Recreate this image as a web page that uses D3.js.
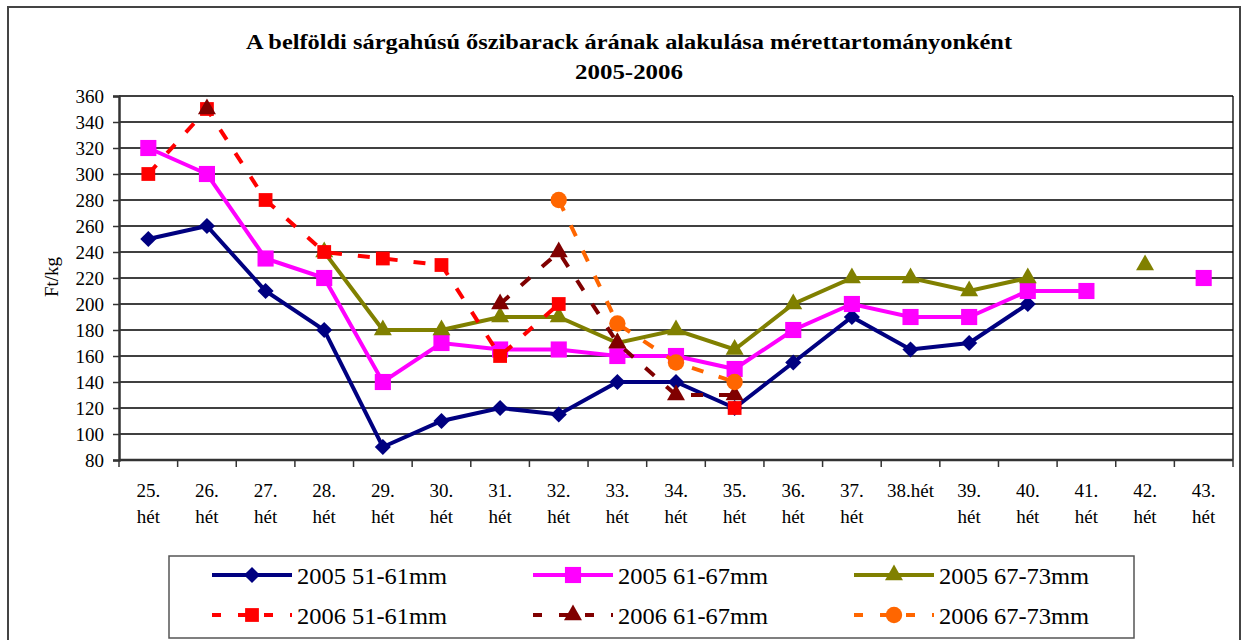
<!DOCTYPE html>
<html>
<head>
<meta charset="utf-8">
<script src="https://cdn.jsdelivr.net/npm/d3@7"></script>
<style>
  body { margin: 0; background: #fff; }
  text { font-family: "Liberation Serif", "Times New Roman", serif; fill: #000; }
</style>
</head>
<body>
<script>
// weekly prices, Ft/kg (null = no data)
var weeks = ['25. hét', '26. hét', '27. hét', '28. hét', '29. hét', '30. hét', '31. hét', '32. hét',
  '33. hét', '34. hét', '35. hét', '36. hét', '37. hét', '38.hét', '39. hét', '40. hét',
  '41. hét', '42. hét', '43. hét'];

var s2005a = [250, 260, 210, 180, 90, 110, 120, 115, 140, 140, 120, 155, 190, 165, 170, 200, null, null, null];
var s2005b = [320, 300, 235, 220, 140, 170, 165, 165, 160, 160, 150, 180, 200, 190, 190, 210, 210, null, 220];
var s2005c = [null, null, null, 240, 180, 180, 190, 190, 170, 180, 165, 200, 220, 220, 210, 220, null, 230, null];
var s2006a = [300, 350, 280, 240, 235, 230, 160, 200, null, null, 120, null, null, null, null, null, null, null, null];
var s2006b = [null, 350, null, null, null, null, 200, 240, 170, 130, 130, null, null, null, null, null, null, null, null];
var s2006c = [null, null, null, null, null, null, null, 280, 185, 155, 140, null, null, null, null, null, null, null, null];

var seriesNames = ['2005 51-61mm', '2005 61-67mm', '2005 67-73mm', '2006 51-61mm', '2006 61-67mm', '2006 67-73mm'];
var yTicks = [80, 100, 120, 140, 160, 180, 200, 220, 240, 260, 280, 300, 320, 340, 360];

// square diamond (excel style), not the narrow d3 one
var diamond = {
  draw: function (ctx, size) {
    var r = Math.sqrt(size / 2);
    ctx.moveTo(0, -r); ctx.lineTo(r, 0); ctx.lineTo(0, r); ctx.lineTo(-r, 0); ctx.closePath();
  }
};

var series = [
  { name: seriesNames[0], values: s2005a, color: '#000080', shape: diamond, size: 130, dash: null },
  { name: seriesNames[1], values: s2005b, color: '#FF00FF', shape: d3.symbolSquare, size: 260, dash: null },
  { name: seriesNames[2], values: s2005c, color: '#808000', shape: d3.symbolTriangle, size: 140, dash: null },
  { name: seriesNames[3], values: s2006a, color: '#FF0000', shape: d3.symbolSquare, size: 190, dash: '12,16' },
  { name: seriesNames[4], values: s2006b, color: '#800000', shape: d3.symbolTriangle, size: 140, dash: '12,16' },
  { name: seriesNames[5], values: s2006c, color: '#FF6600', shape: d3.symbolCircle, size: 210, dash: '12,16' }
];

var W = 1242, H = 640;
var plot = { left: 119, right: 1233, top: 96, bottom: 460 };

var svg = d3.select('body').append('svg')
  .attr('width', W).attr('height', H);

// outer frame
svg.append('rect')
  .attr('x', 8).attr('y', 7).attr('width', 1232).attr('height', 660)
  .attr('fill', 'none').attr('stroke', '#444').attr('stroke-width', 2);

var x = d3.scaleBand().domain(weeks).range([plot.left, plot.right]).padding(0);
var y = d3.scaleLinear().domain([80, 360]).range([plot.bottom, plot.top]);
var cx = function (i) { return x(weeks[i]) + x.bandwidth() / 2; };

// gridlines
svg.append('g').selectAll('line')
  .data(yTicks.slice(1))
  .enter().append('line')
  .attr('x1', plot.left).attr('x2', plot.right)
  .attr('y1', function (d) { return y(d); }).attr('y2', function (d) { return y(d); })
  .attr('stroke', '#000').attr('stroke-width', 1.3);

// right border of plot
svg.append('line')
  .attr('x1', plot.right).attr('x2', plot.right)
  .attr('y1', plot.top).attr('y2', plot.bottom)
  .attr('stroke', '#000').attr('stroke-width', 1.3);

// y axis
var yAxis = d3.axisLeft(y).tickValues(yTicks).tickSize(6).tickPadding(9);
var gy = svg.append('g')
  .attr('transform', 'translate(' + plot.left + ',0)')
  .call(yAxis);
gy.select('.domain').attr('stroke', '#333').attr('stroke-width', 2.5);
gy.selectAll('.tick line').attr('stroke', '#333').attr('stroke-width', 1.5);
gy.selectAll('.tick text')
  .style('font-family', '"Liberation Serif", serif')
  .style('font-size', '19px').attr('fill', '#000');

// x axis line and ticks at band edges
svg.append('line')
  .attr('x1', plot.left).attr('x2', plot.right)
  .attr('y1', plot.bottom).attr('y2', plot.bottom)
  .attr('stroke', '#333').attr('stroke-width', 2.5);
var edges = weeks.map(function (w) { return x(w); }).concat([plot.right]);
svg.append('g').selectAll('line')
  .data(edges)
  .enter().append('line')
  .attr('x1', function (d) { return d; }).attr('x2', function (d) { return d; })
  .attr('y1', plot.bottom).attr('y2', plot.bottom + 7)
  .attr('stroke', '#333').attr('stroke-width', 1.5);

// x labels, two lines
var xl = svg.append('g').selectAll('text')
  .data(weeks)
  .enter().append('text')
  .attr('text-anchor', 'middle')
  .style('font-size', '19px');
xl.each(function (w, i) {
  var parts = w.split(' ');
  var t = d3.select(this);
  parts.forEach(function (p, j) {
    t.append('tspan')
      .attr('x', cx(i))
      .attr('y', 497 + j * 26)
      .text(p);
  });
});

// y title
svg.append('text')
  .attr('transform', 'translate(58,277) rotate(-90)')
  .attr('text-anchor', 'middle')
  .style('font-size', '19px')
  .text('Ft/kg');

// title
svg.append('text')
  .attr('x', 629).attr('y', 49)
  .attr('text-anchor', 'middle')
  .attr('textLength', 766).attr('lengthAdjust', 'spacingAndGlyphs')
  .style('font-size', '21px').style('font-weight', 'bold')
  .text('A belföldi sárgahúsú őszibarack árának alakulása mérettartományonként');
svg.append('text')
  .attr('x', 629).attr('y', 79)
  .attr('text-anchor', 'middle')
  .attr('textLength', 108).attr('lengthAdjust', 'spacingAndGlyphs')
  .style('font-size', '21px').style('font-weight', 'bold')
  .text('2005-2006');

// series
var line = d3.line()
  .defined(function (d) { return d != null; })
  .x(function (d, i) { return cx(i); })
  .y(function (d) { return y(d); });

series.forEach(function (s) {
  var g = svg.append('g');
  g.append('path')
    .attr('d', line(s.values))
    .attr('fill', 'none')
    .attr('stroke', s.color)
    .attr('stroke-width', 4)
    .attr('stroke-dasharray', s.dash);
  g.selectAll('path.m')
    .data(s.values.map(function (v, i) { return { v: v, i: i }; }).filter(function (d) { return d.v != null; }))
    .enter().append('path')
    .attr('class', 'm')
    .attr('d', d3.symbol().type(s.shape).size(s.size))
    .attr('transform', function (d) { return 'translate(' + cx(d.i) + ',' + y(d.v) + ')'; })
    .attr('fill', s.color);
});

// legend
svg.append('rect')
  .attr('x', 169).attr('y', 556).attr('width', 965).attr('height', 82)
  .attr('fill', '#fff').attr('stroke', '#555').attr('stroke-width', 1.5);

var legX = [212, 533, 854];
var legY = [575, 615];
series.forEach(function (s, k) {
  var lx = legX[k % 3], ly = legY[Math.floor(k / 3)];
  var g = svg.append('g');
  g.append('line')
    .attr('x1', lx).attr('x2', lx + 80)
    .attr('y1', ly).attr('y2', ly)
    .attr('stroke', s.color).attr('stroke-width', 4)
    .attr('stroke-dasharray', s.dash ? '9,17' : null);
  g.append('path')
    .attr('d', d3.symbol().type(s.shape).size(s.size))
    .attr('transform', 'translate(' + (lx + 40) + ',' + ly + ')')
    .attr('fill', s.color);
  g.append('text')
    .attr('x', lx + 85).attr('y', ly + 9)
    .attr('textLength', 150).attr('lengthAdjust', 'spacingAndGlyphs')
    .style('font-size', '23px')
    .text(s.name);
});
</script>
</body>
</html>
